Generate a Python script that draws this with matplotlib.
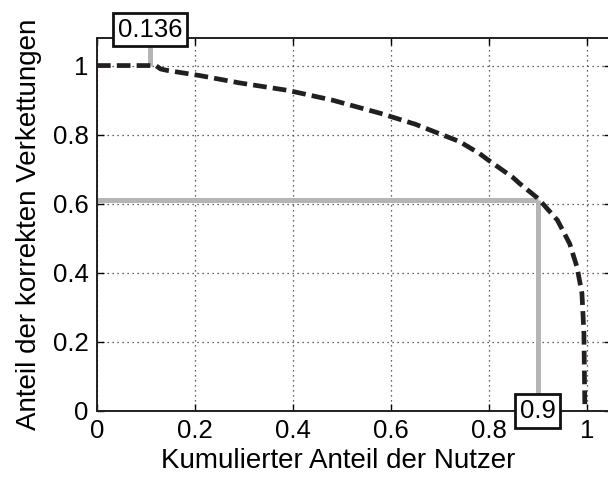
import matplotlib.pyplot as plt

plt.rcParams["font.family"] = ["Liberation Sans", "DejaVu Sans"]

# curve
share_users = [0.0, 0.12, 0.13, 0.143, 0.21, 0.29, 0.39, 0.48, 0.58, 0.65, 0.693,
               0.74, 0.781, 0.80, 0.849, 0.863, 0.898, 0.91, 0.94, 0.965, 0.98,
               0.99, 0.994, 0.996]
share_correct = [1.0, 1.0, 0.99, 0.986, 0.971, 0.95, 0.928, 0.90, 0.861, 0.83, 0.806,
                 0.78, 0.745, 0.725, 0.676, 0.658, 0.618, 0.60, 0.552, 0.484, 0.416,
                 0.34, 0.225, 0.0]

# marker lines
mark_x = 0.9
mark_y = 0.61
top_mark_x = 0.108
top_label = "0.136"
bottom_label = "0.9"

ticks = [0, 0.2, 0.4, 0.6, 0.8, 1]
tick_labels = ["0", "0.2", "0.4", "0.6", "0.8", "1"]

fig = plt.figure(figsize=(6.08, 4.80), dpi=100)
ax = fig.add_axes([0.1595, 0.144, 0.846, 0.777])

gray = "#b5b5b8"
ax.plot([0, mark_x], [mark_y, mark_y], color=gray, lw=3.6, solid_capstyle="butt", zorder=2)
ax.plot([mark_x, mark_x], [0, mark_y], color=gray, lw=3.6, solid_capstyle="butt", zorder=2)
ax.plot([top_mark_x, top_mark_x], [1.0, 1.1], color=gray, lw=3.6, solid_capstyle="butt",
        clip_on=False, zorder=2)

ax.plot(share_users, share_correct, color="#231f20", lw=3.4, dashes=(2.9, 1.3), zorder=3)

box = dict(boxstyle="square,pad=0.18", fc="white", ec="#111111", lw=2.0)
ax.text(top_mark_x, 1.104, top_label, ha="center", va="center", fontsize=18.5,
        bbox=box, clip_on=False, zorder=5)
ax.text(mark_x, 0.0, bottom_label, ha="center", va="center", fontsize=18.5,
        bbox=dict(box, pad=0.24), clip_on=False, zorder=5)

ax.set_xlim(0, 1.05)
ax.set_ylim(0, 1.08)
ax.set_xticks(ticks)
ax.set_xticklabels(tick_labels)
ax.set_yticks(ticks)
ax.set_yticklabels(tick_labels)
ax.tick_params(direction="in", length=5, width=1, labelsize=18.5, top=True, right=True, pad=6)
ax.grid(True, linestyle=(0, (1, 3)), color="#333333", lw=0.9)
ax.set_axisbelow(True)
for s in ax.spines.values():
    s.set_linewidth(1.4)
    s.set_color("#231f20")

ax.set_xlabel("Kumulierter Anteil der Nutzer", fontsize=20)
ax.xaxis.set_label_coords(0.469, -0.1)
ax.set_ylabel("Anteil der korrekten Verkettungen", fontsize=20, labelpad=8)

fig.savefig("out.png", dpi=100)
